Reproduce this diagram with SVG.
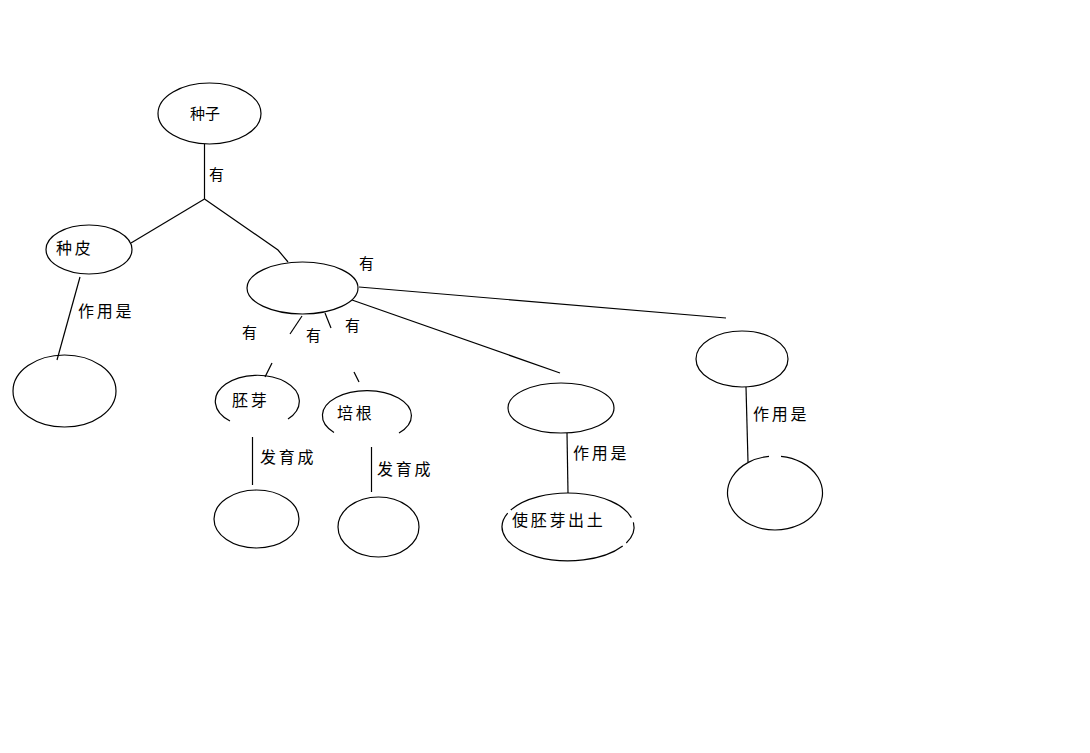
<svg xmlns="http://www.w3.org/2000/svg" width="1090" height="753" viewBox="0 0 1090 753">
<style>
.n{fill:none;stroke:#000;stroke-width:1.2}
.c{fill:none;stroke:#000;stroke-width:1.2}
text{font-family:"Noto Sans CJK SC","Noto Sans",sans-serif;fill:#000}
.t{font-size:16px;letter-spacing:2.7px}
.s{font-size:15px}
</style>
<rect width="1090" height="753" fill="#fff"/>
<g id="connectors">
<line class="c" x1="204.5" y1="144" x2="204.5" y2="199"/>
<line class="c" x1="204.5" y1="199" x2="131" y2="243"/>
<polyline class="c" points="204.5,199 278,250 288,262"/>
<line class="c" x1="80" y1="277" x2="57" y2="360"/>
<line class="c" x1="359" y1="287" x2="726" y2="318"/>
<line class="c" x1="352" y1="300" x2="560" y2="373"/>
<line class="c" x1="302" y1="316" x2="290" y2="334"/>
<line class="c" x1="325" y1="313" x2="331" y2="328"/>
<line class="c" x1="265" y1="377" x2="272" y2="363"/>
<line class="c" x1="354" y1="372" x2="359" y2="382"/>
<line class="c" x1="252.5" y1="437" x2="252.5" y2="485"/>
<line class="c" x1="371.5" y1="447" x2="371.5" y2="492"/>
<line class="c" x1="567" y1="433" x2="568" y2="493"/>
<line class="c" x1="746" y1="387" x2="748" y2="462"/>
</g>
<g id="labels">
<text class="s" x="209" y="180">有</text>
<text class="s" x="359" y="269">有</text>
<text class="s" x="242" y="338">有</text>
<text class="s" x="306" y="341">有</text>
<text class="s" x="345" y="331">有</text>
<text class="t" x="78" y="317">作用是</text>
<text class="t" x="260" y="463">发育成</text>
<text class="t" x="377" y="475">发育成</text>
<text class="t" x="573" y="459">作用是</text>
<text class="t" x="753" y="420">作用是</text>
</g>
<g id="node-zhongzi">
<ellipse class="n" cx="209.5" cy="113.5" rx="51.5" ry="30.5"/>
<text class="s" x="190" y="119">种子</text>
</g>
<g id="node-zhongpi">
<ellipse class="n" cx="89" cy="249.5" rx="43" ry="24.5"/>
<text class="t" x="56" y="254">种皮</text>
</g>
<g id="node-zhongpi-child">
<ellipse class="n" cx="64.5" cy="391" rx="51.5" ry="36"/>
</g>
<g id="node-middle">
<ellipse class="n" cx="302.5" cy="288" rx="55.5" ry="26"/>
</g>
<g id="node-peiya">
<path class="n" d="M230,421 A42,26 0 1 1 288,419"/>
<text class="t" x="232" y="406">胚芽</text>
</g>
<g id="node-peigen">
<path class="n" d="M334,432.5 A44.5,25 0 1 1 399,433"/>
<text class="t" x="337" y="419">培根</text>
</g>
<g id="node-peiya-child">
<ellipse class="n" cx="256.5" cy="519" rx="42.5" ry="29"/>
</g>
<g id="node-peigen-child">
<ellipse class="n" cx="378.5" cy="527" rx="40.5" ry="30"/>
</g>
<g id="node-ziye">
<ellipse class="n" cx="561" cy="408" rx="53" ry="25"/>
</g>
<g id="node-chutu">
<path class="n" d="M510.8,510 A66,34 0 0 1 631.4,517.6"/>
<path class="n" d="M633.4,522.3 A66,34 0 0 1 626.3,543"/>
<path class="n" d="M622.7,546 A66,34 0 0 1 507.7,513.2"/>
<text class="t" x="512" y="526">使胚芽出土</text>
</g>
<g id="node-right">
<ellipse class="n" cx="742" cy="359" rx="46" ry="28"/>
</g>
<g id="node-right-child">
<path class="n" d="M781,456.3 A47.5,37 0 1 1 769,456.3"/>
</g>
</svg>
